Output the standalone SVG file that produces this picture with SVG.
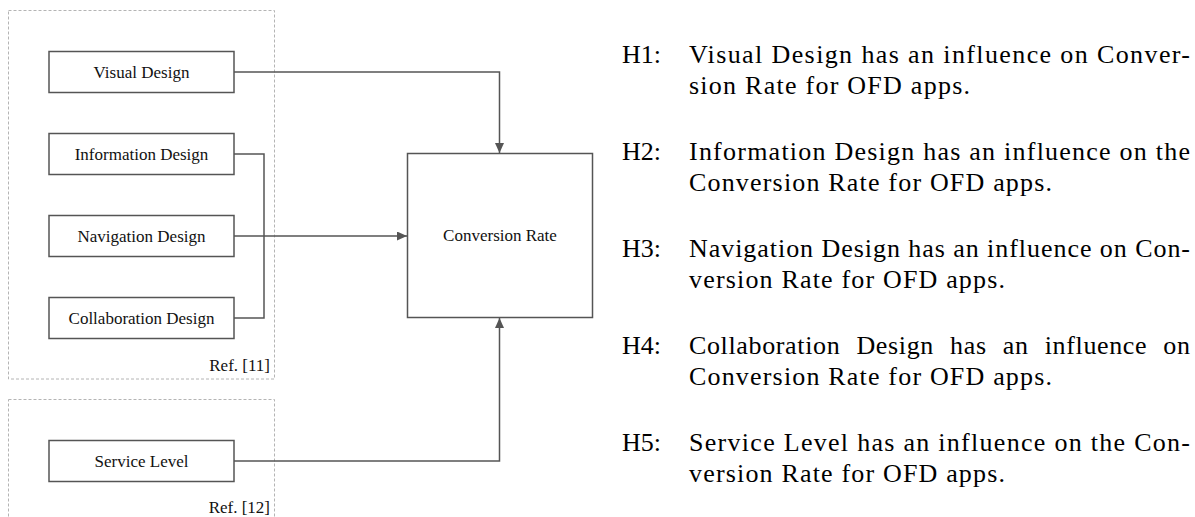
<svg xmlns="http://www.w3.org/2000/svg" width="1195" height="517" viewBox="0 0 1195 517">
<style>
.grp{fill:none;stroke:#b4b4b4;stroke-width:1;stroke-dasharray:3 2}
.box{fill:#fff;stroke:#555;stroke-width:1.5}
.lbl{font-family:"Liberation Serif",serif;font-size:17px;fill:#111;text-anchor:middle}
.ref{font-family:"Liberation Serif",serif;font-size:17px;fill:#111;text-anchor:end}
.con{fill:none;stroke:#555;stroke-width:1.5}
.hyp{font-family:"Liberation Serif",serif;font-size:26px;fill:#000}
</style>
<defs>
<marker id="arr" viewBox="0 0 10 9" refX="10" refY="4.5" markerWidth="10" markerHeight="9" markerUnits="userSpaceOnUse" orient="auto">
<path d="M0,0 L10,4.5 L0,9 Z" fill="#555"/>
</marker>
</defs>
<rect class="grp" x="8.5" y="10.5" width="266" height="368.5"/>
<text class="ref" x="270" y="371">Ref. [11]</text>
<rect class="grp" x="8.5" y="399.5" width="266" height="130"/>
<text class="ref" x="270" y="513">Ref. [12]</text>
<g id="connectors">
<path class="con" d="M234,72 H499.5 V153" marker-end="url(#arr)"/>
<path class="con" d="M234,154 H264 V318 H234"/>
<path class="con" d="M234,236 H407" marker-end="url(#arr)"/>
<path class="con" d="M234,461 H499.5 V318" marker-end="url(#arr)"/>
</g>
<g id="visual"><rect class="box" x="49" y="51.5" width="185" height="41"/><text class="lbl" x="141.5" y="78">Visual Design</text></g>
<g id="information"><rect class="box" x="49" y="133.5" width="185" height="41"/><text class="lbl" x="141.5" y="160">Information Design</text></g>
<g id="navigation"><rect class="box" x="49" y="215.5" width="185" height="41"/><text class="lbl" x="141.5" y="242">Navigation Design</text></g>
<g id="collaboration"><rect class="box" x="49" y="297.5" width="185" height="41"/><text class="lbl" x="141.5" y="324">Collaboration Design</text></g>
<g id="service"><rect class="box" x="49" y="440.5" width="185" height="41"/><text class="lbl" x="141.5" y="467">Service Level</text></g>
<g id="conversion"><rect class="box" x="407.5" y="153.5" width="185" height="164"/><text class="lbl" x="500" y="241">Conversion Rate</text></g>
<g id="hypotheses">
<text class="hyp" x="622" y="63">H1:</text>
<text class="hyp" x="689" y="63" textLength="501" lengthAdjust="spacing">Visual Design has an influence on Conver-</text>
<text class="hyp" x="689" y="94" textLength="281" lengthAdjust="spacing">sion Rate for OFD apps.</text>
<text class="hyp" x="622" y="160">H2:</text>
<text class="hyp" x="689" y="160" textLength="501" lengthAdjust="spacing">Information Design has an influence on the</text>
<text class="hyp" x="689" y="191" textLength="363" lengthAdjust="spacing">Conversion Rate for OFD apps.</text>
<text class="hyp" x="622" y="257">H3:</text>
<text class="hyp" x="689" y="257" textLength="501" lengthAdjust="spacing">Navigation Design has an influence on Con-</text>
<text class="hyp" x="689" y="288" textLength="316" lengthAdjust="spacing">version Rate for OFD apps.</text>
<text class="hyp" x="622" y="354">H4:</text>
<text class="hyp" x="689" y="354" word-spacing="9" textLength="501" lengthAdjust="spacing">Collaboration Design has an influence on</text>
<text class="hyp" x="689" y="385" textLength="363" lengthAdjust="spacing">Conversion Rate for OFD apps.</text>
<text class="hyp" x="622" y="451">H5:</text>
<text class="hyp" x="689" y="451" textLength="501" lengthAdjust="spacing">Service Level has an influence on the Con-</text>
<text class="hyp" x="689" y="482" textLength="316" lengthAdjust="spacing">version Rate for OFD apps.</text>
</g>
</svg>
